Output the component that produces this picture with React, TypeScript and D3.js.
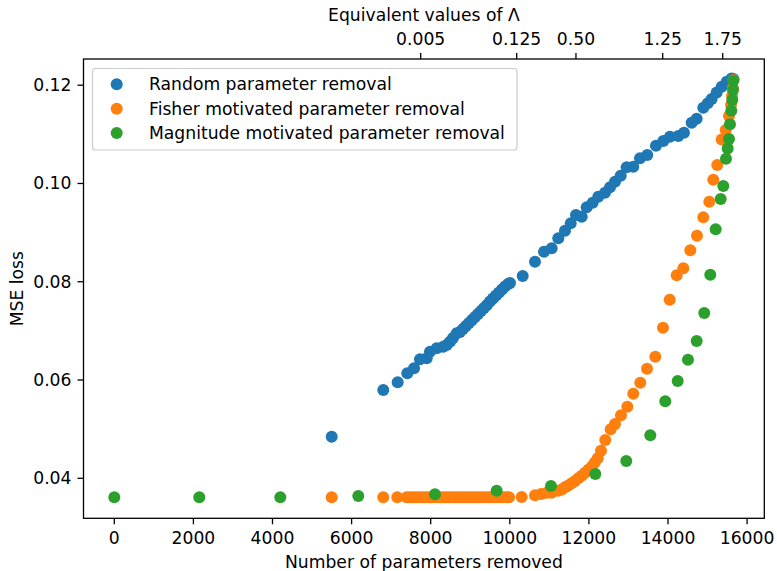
import React from "react";
import * as d3 from "d3";

// ---------- DATA ----------
const randomX = [5497, 6801, 7165, 7408, 7578, 7729, 7899, 7982, 8152, 8318, 8404, 8488, 8564, 8657,
  8741, 8816, 8892, 8968, 9044, 9120, 9196, 9272, 9347, 9423, 9499, 9575, 9651, 9727, 9803, 9879, 9955, 10005,
  10326, 10637, 10865, 11059, 11226, 11395, 11540, 11674, 11818, 11944, 12096, 12237, 12407, 12533, 12660,
  12804, 12955, 13122, 13292, 13476, 13696, 13881, 14050, 14260, 14404, 14599, 14725, 14892, 15003, 15104,
  15231, 15357, 15484, 15610, 15656];
const randomY = [0.04846, 0.05797, 0.05953, 0.06136, 0.06238, 0.06421, 0.06442, 0.06576, 0.06645, 0.06678, 0.06712, 0.06779, 0.06853, 0.0695,
  0.06977, 0.07038, 0.07099, 0.0716, 0.07221, 0.07282, 0.07343, 0.07404, 0.07465, 0.07526, 0.07597, 0.07658, 0.07719, 0.0778, 0.07841, 0.07902, 0.07953, 0.07974,
  0.08116, 0.08407, 0.0861, 0.0868, 0.08883, 0.09038, 0.09188, 0.09357, 0.09323, 0.09514, 0.09607, 0.09729, 0.09811, 0.09921, 0.10035,
  0.10157, 0.10328, 0.1034, 0.10511, 0.10578, 0.10767, 0.10863, 0.1095, 0.10964, 0.11032, 0.11235, 0.11316, 0.1154, 0.1163, 0.11717,
  0.11853, 0.11967, 0.12069, 0.12138, 0.12124];

const fisherX = [5497, 6801, 7155, 7393, 7476, 7552, 7628, 7704, 7780, 7856, 7932, 8008, 8084, 8159, 8235, 8311,
  8387, 8463, 8539, 8615, 8691, 8767, 8843, 8919, 8994, 9070, 9146, 9222, 9298, 9374, 9450, 9526, 9601, 9677,
  9753, 9829, 9905, 9981, 10301, 10637, 10789, 10933, 11059, 11226, 11312, 11395, 11479, 11565, 11648, 11732,
  11818, 11901, 11985, 12070, 12146, 12222, 12306, 12414, 12551, 12660, 12811, 12971, 13122, 13299, 13469,
  13679, 13873, 14043, 14220, 14387, 14564, 14733, 14892, 15044, 15145, 15246, 15357, 15459, 15542, 15593,
  15618, 15643, 15656];
const fisherY = [0.03613, 0.03613, 0.03613, 0.03613, 0.03614, 0.03613, 0.03614, 0.03613, 0.03613, 0.03614, 0.03613, 0.03614, 0.03613, 0.03613, 0.03614, 0.03613,
  0.03613, 0.03614, 0.03613, 0.03613, 0.03614, 0.03613, 0.03613, 0.03614, 0.03613, 0.03613, 0.03614, 0.03613, 0.03613, 0.03614, 0.03613, 0.03613, 0.03614, 0.03613,
  0.03613, 0.03614, 0.03613, 0.03613, 0.0362, 0.03654, 0.03681, 0.03705, 0.03707, 0.03748, 0.03772, 0.03817, 0.03854, 0.03898, 0.03945, 0.04,
  0.04053, 0.04114, 0.04175, 0.04236, 0.04317, 0.04407, 0.04562, 0.04779, 0.04997, 0.05105, 0.05282, 0.05457, 0.05721, 0.05945, 0.0623,
  0.06474, 0.07064, 0.07634, 0.0813, 0.08273, 0.08639, 0.08936, 0.0931, 0.09628, 0.10075, 0.10374, 0.10897, 0.11087, 0.11371, 0.11595,
  0.11778, 0.11941, 0.12104];

const magnitudeX = [0, 2149, 4197, 6169, 8108, 9668, 11041, 12162, 12945, 13552, 13931, 14245, 14505, 14725,
  14917, 15069, 15205, 15332, 15398, 15466, 15509, 15542, 15567, 15600, 15625, 15643, 15650];
const magnitudeY = [0.03613, 0.03613, 0.03613, 0.0364, 0.03674, 0.03748, 0.03843, 0.04087, 0.04352, 0.04875, 0.05567, 0.0598, 0.06413, 0.06794,
  0.07363, 0.08143, 0.09066, 0.09683, 0.09947, 0.10503, 0.10714, 0.10903, 0.11203, 0.11479, 0.11697, 0.119, 0.1209];

const seriesNames = ["Random parameter removal", "Fisher motivated parameter removal", "Magnitude motivated parameter removal"];
const seriesColors = ["#1f77b4", "#ff7f0e", "#2ca02c"];

const xTicks = [0, 2000, 4000, 6000, 8000, 10000, 12000, 14000, 16000];
const yTicks = [0.04, 0.06, 0.08, 0.1, 0.12];
const lambdaPositions = [7747, 10174, 11673, 13866, 15383];
const lambdaLabels = ["0.005", "0.125", "0.50", "1.25", "1.75"];

// ---------- LAYOUT ----------
const W = 777, H = 571;
const L = 83.5, R = 764.3, T = 59, B = 518.3;
const FONT = "DejaVu Sans, sans-serif";
const FS = 17.2;

export default function App() {
  const x = d3.scaleLinear().domain([-778.8, 16435]).range([L, R]);
  const y = d3.scaleLinear().domain([0.03186, 0.12533]).range([B, T]);
  const fmtY = d3.format(".2f");

  const series = [
    { xs: randomX, ys: randomY },
    { xs: fisherX, ys: fisherY },
    { xs: magnitudeX, ys: magnitudeY },
  ];

  return (
    <div style={{ position: "absolute", left: 0, top: 0 }}>
      <svg width={W} height={H} style={{ display: "block", background: "#fff" }} fontFamily={FONT}>
        <rect x={0} y={0} width={W} height={H} fill="#fff" />
        {/* points */}
        {series.map((s, si) => (
          <g key={si} fill={seriesColors[si]}>
            {s.xs.map((v, i) => (
              <circle key={i} cx={x(v)} cy={y(s.ys[i])} r={6} />
            ))}
          </g>
        ))}
        {/* spines */}
        <rect x={L} y={T} width={R - L} height={B - T} fill="none" stroke="#000" strokeWidth={1.3} />
        {/* bottom axis */}
        {xTicks.map((t) => (
          <g key={t}>
            <line x1={x(t)} x2={x(t)} y1={B} y2={B + 6} stroke="#000" strokeWidth={1.3} />
            <text x={x(t)} y={B + 20} textAnchor="middle" fontSize={FS} dy="0.35em">{t}</text>
          </g>
        ))}
        <text x={(L + R) / 2} y={561.5} textAnchor="middle" fontSize={FS} dy="0.35em">Number of parameters removed</text>
        {/* left axis */}
        {yTicks.map((t) => (
          <g key={t}>
            <line x1={L - 6} x2={L} y1={y(t)} y2={y(t)} stroke="#000" strokeWidth={1.3} />
            <text x={L - 12} y={y(t)} textAnchor="end" fontSize={FS} dy="0.35em">{fmtY(t)}</text>
          </g>
        ))}
        <text transform={`translate(17,${(T + B) / 2}) rotate(-90)`} textAnchor="middle" fontSize={FS} dy="0.35em">MSE loss</text>
        {/* top axis */}
        {lambdaPositions.map((p, i) => (
          <g key={i}>
            <line x1={x(p)} x2={x(p)} y1={T - 6} y2={T} stroke="#000" strokeWidth={1.3} />
            <text x={x(p)} y={38.5} textAnchor="middle" fontSize={FS} dy="0.35em">{lambdaLabels[i]}</text>
          </g>
        ))}
        <text x={(L + R) / 2} y={14.5} textAnchor="middle" fontSize={FS} dy="0.35em">Equivalent values of Λ</text>
        {/* legend */}
        <rect x={92.5} y={68.5} width={424.5} height={81.5} rx={3} fill="#fff" fillOpacity={0.8} stroke="#ccc" strokeWidth={1.2} />
        {seriesNames.map((n, i) => (
          <g key={n}>
            <circle cx={116.7} cy={84.3 + i * 24.35} r={6} fill={seriesColors[i]} />
            <text x={149} y={84.3 + i * 24.35} fontSize={FS} dy="0.35em">{n}</text>
          </g>
        ))}
      </svg>
    </div>
  );
}
